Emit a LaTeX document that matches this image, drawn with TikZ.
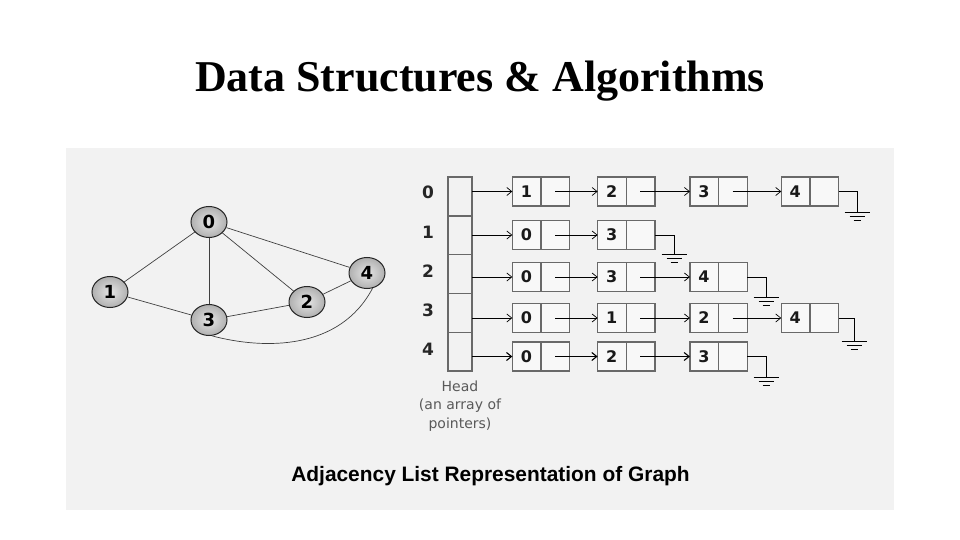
\documentclass[tikz,border=0pt]{standalone}
\usepackage{fontspec}
\setmainfont{Liberation Serif}
\setsansfont{Liberation Sans}
\newfontfamily\dejavu{DejaVu Sans}
\usetikzlibrary{arrows.meta,positioning,shapes.geometric,shapes.multipart}

\definecolor{panelgray}{RGB}{242,242,242}
\definecolor{boxgray}{RGB}{105,105,105}

% ground symbol below a wire end
\newcommand{\earth}[1]{%
  \draw[wire] ([xshift=-12.5pt]#1) -- ([xshift=12.5pt]#1)
              ([xshift=-7.5pt,yshift=-4pt]#1) -- ([xshift=7.5pt,yshift=-4pt]#1)
              ([xshift=-3.5pt,yshift=-8pt]#1) -- ([xshift=3.5pt,yshift=-8pt]#1);}

\begin{document}
\begin{tikzpicture}[x=1pt, y=-1pt,
  vert/.style={ellipse, draw=black!85, line width=1pt,
               inner color=gray!20, outer color=gray!62,
               minimum width=36pt, minimum height=31pt, inner sep=0pt,
               font=\dejavu\bfseries\fontsize{18}{18}\selectfont},
  edge/.style={draw=black!75, line width=0.7pt},
  headcell/.style={draw=boxgray, line width=1.3pt, minimum width=24pt,
                   minimum height=38.8pt, outer sep=0pt, inner sep=0pt},
  lnode/.style={rectangle split, rectangle split horizontal,
                rectangle split parts=2, rectangle split empty part width=20pt,
                draw=boxgray, line width=1.3pt, fill=white!50!panelgray,
                text width=20pt, inner xsep=4pt, inner ysep=0pt, outer sep=0pt,
                align=center, minimum height=29pt, text=black!90,
                font=\dejavu\bfseries\fontsize{16}{16}\selectfont},
  ptr/.style={-{Straight Barb[length=5pt,width=8pt]}, line width=0.7pt},
  wire/.style={line width=0.7pt},
  idx/.style={font=\dejavu\bfseries\fontsize{17}{17}\selectfont, text=black!85},
]
\useasboundingbox (0,0) rectangle (960,540);

% --- Title and panel ---
\node[font=\bfseries\fontsize{44}{44}\selectfont] (title) at (480,81)
  {Data Structures \& Algorithms};
\fill[panelgray] (66,148) rectangle (894,510);

% --- Graph ---
\node[vert] (g0) at (209,222) {0};
\node[vert] (g1) at (110,292) {1};
\node[vert] (g3) at (209,320) {3};
\node[vert] (g2) at (307,302) {2};
\node[vert] (g4) at (367,273) {4};

\draw[edge] (g0) -- (g1);
\draw[edge] (g0) -- (g3);
\draw[edge] (g0) -- (g2);
\draw[edge] (g0) -- (g4);
\draw[edge] (g1) -- (g3);
\draw[edge] (g3) -- (g2);
\draw[edge] (g2) -- (g4);
\draw[edge] (g3.-80) .. controls (265,350) and (340,350) .. (g4.-70);

% --- Head array ---
\node[headcell] (h0) at (460,196.5) {};
\node[headcell, below=0pt of h0] (h1) {};
\node[headcell, below=0pt of h1] (h2) {};
\node[headcell, below=0pt of h2] (h3) {};
\node[headcell, below=0pt of h3] (h4) {};

\node[idx] (l0) at (428,192) {0};
\node[idx] (l1) at (428,232) {1};
\node[idx] (l2) at (428,271) {2};
\node[idx] (l3) at (428,310) {3};
\node[idx] (l4) at (428,349) {4};

\node[below=6pt of h4, align=center, text=black!65,
      font=\dejavu\fontsize{14}{18.5}\selectfont] (headtxt)
  {Head\\(an array of\\pointers)};

% --- Lists ---
\node[lnode] (r0a) at (541,191.5) {1\nodepart{two}};
\node[lnode, right=28pt of r0a] (r0b) {2\nodepart{two}};
\node[lnode, right=35pt of r0b] (r0c) {3\nodepart{two}};
\node[lnode, right=34pt of r0c] (r0d) {4\nodepart{two}};

\node[lnode] (r1a) at (541,235) {0\nodepart{two}};
\node[lnode, right=28pt of r1a] (r1b) {3\nodepart{two}};

\node[lnode] (r2a) at (541,277) {0\nodepart{two}};
\node[lnode, right=28pt of r2a] (r2b) {3\nodepart{two}};
\node[lnode, right=35pt of r2b] (r2c) {4\nodepart{two}};

\node[lnode] (r3a) at (541,318) {0\nodepart{two}};
\node[lnode, right=28pt of r3a] (r3b) {1\nodepart{two}};
\node[lnode, right=35pt of r3b] (r3c) {2\nodepart{two}};
\node[lnode, right=34pt of r3c] (r3d) {4\nodepart{two}};

\node[lnode] (r4a) at (541,356.5) {0\nodepart{two}};
\node[lnode, right=28pt of r4a] (r4b) {2\nodepart{two}};
\node[lnode, right=35pt of r4b] (r4c) {3\nodepart{two}};

% --- Pointers ---
\draw[ptr] (r0a.west -| h0.east) -- (r0a.west);
\draw[ptr] ([xshift=14pt]r0a.center) -- (r0b.west);
\draw[ptr] ([xshift=14pt]r0b.center) -- (r0c.west);
\draw[ptr] ([xshift=14pt]r0c.center) -- (r0d.west);

\draw[ptr] (r1a.west -| h1.east) -- (r1a.west);
\draw[ptr] ([xshift=14pt]r1a.center) -- (r1b.west);

\draw[ptr] (r2a.west -| h2.east) -- (r2a.west);
\draw[ptr] ([xshift=14pt]r2a.center) -- (r2b.west);
\draw[ptr] ([xshift=14pt]r2b.center) -- (r2c.west);

\draw[ptr] (r3a.west -| h3.east) -- (r3a.west);
\draw[ptr] ([xshift=14pt]r3a.center) -- (r3b.west);
\draw[ptr] ([xshift=14pt]r3b.center) -- (r3c.west);
\draw[ptr] ([xshift=14pt]r3c.center) -- (r3d.west);

\draw[ptr, line width=1.1pt] (r4a.west -| h4.east) -- (r4a.west);
\draw[ptr, line width=1.1pt] ([xshift=14pt]r4a.center) -- (r4b.west);
\draw[ptr, line width=1.1pt] ([xshift=14pt]r4b.center) -- (r4c.west);

% --- Null ends ---
\coordinate (e0) at (857,212);
\coordinate (e1) at (674,254);
\coordinate (e2) at (766,297);
\coordinate (e3) at (854,341);
\coordinate (e4) at (766,377);
\draw[wire] (r0d.east) -| (e0); \earth{e0}
\draw[wire] (r1b.east) -| (e1); \earth{e1}
\draw[wire] (r2c.east) -| (e2); \earth{e2}
\draw[wire] (r3d.east) -| (e3); \earth{e3}
\draw[wire] (r4c.east) -| (e4); \earth{e4}

% --- Caption ---
\node[font=\sffamily\bfseries\fontsize{20.9}{21}\selectfont] (cap) at (490.5,476)
  {Adjacency List Representation of Graph};
\end{tikzpicture}
\end{document}
